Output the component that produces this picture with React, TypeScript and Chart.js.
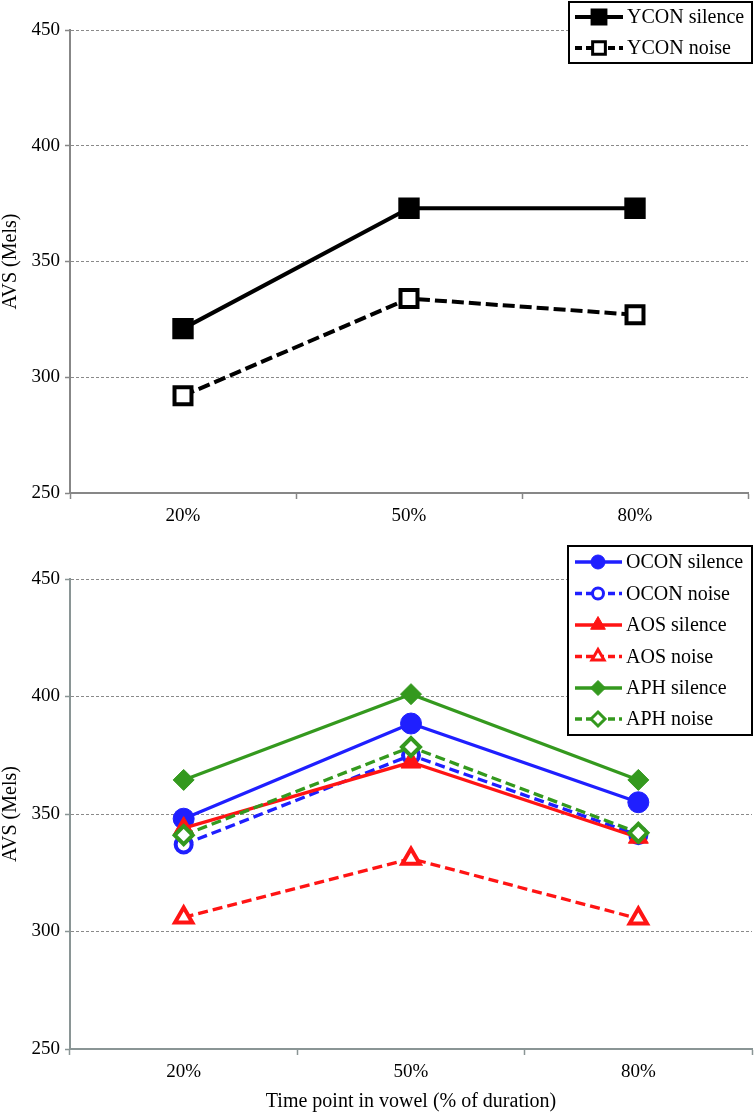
import React, { useEffect, useRef } from 'react';
import { Chart, registerables } from 'chart.js';

Chart.register(...registerables);

const FONT = '"Liberation Serif", "Times New Roman", serif';

// ---- data ----
const categories = ['20%', '50%', '80%'];
const yMin = 250;
const yMax = 450;
const yStep = 50;

const yconSilence = [321, 373, 373];
const yconNoise = [292, 334, 327];

const oconSilence = [348, 388.5, 355];
const oconNoise = [337, 375, 341];
const aosSilence = [344, 372, 340];
const aosNoise = [306, 331, 305.5];
const aphSilence = [364.5, 401, 364.5];
const aphNoise = [341, 378.5, 342];

const yTitle = 'AVS (Mels)';
const xTitle = 'Time point in vowel (% of duration)';

// ---- styles ----
const BLACK = '#000000';
const BLUE = '#1f1fff';
const RED = '#ff1414';
const GREEN = '#34991e';

type Series = {
  label: string;
  data: number[];
  color: string;
  dashed: boolean;
  marker: 'rect' | 'circle' | 'triangle' | 'rectRot';
  filled: boolean;
  radius: number;
  markerBorder: number;
  lineWidth: number;
  legendRadius: number;
  legendBorder: number;
};

const topSeries: Series[] = [
  { label: 'YCON silence', data: yconSilence, color: BLACK, dashed: false, marker: 'rect', filled: true, radius: 13, markerBorder: 3, lineWidth: 4, legendRadius: 10.5, legendBorder: 2 },
  { label: 'YCON noise', data: yconNoise, color: BLACK, dashed: true, marker: 'rect', filled: false, radius: 12, markerBorder: 4, lineWidth: 4, legendRadius: 9, legendBorder: 3 },
];

const bottomSeries: Series[] = [
  { label: 'OCON silence', data: oconSilence, color: BLUE, dashed: false, marker: 'circle', filled: true, radius: 10.5, markerBorder: 1, lineWidth: 3.3, legendRadius: 7, legendBorder: 1 },
  { label: 'OCON noise', data: oconNoise, color: BLUE, dashed: true, marker: 'circle', filled: false, radius: 8, markerBorder: 4, lineWidth: 3.3, legendRadius: 5.5, legendBorder: 3 },
  { label: 'AOS silence', data: aosSilence, color: RED, dashed: false, marker: 'triangle', filled: true, radius: 11.5, markerBorder: 1, lineWidth: 3.3, legendRadius: 8.5, legendBorder: 1 },
  { label: 'AOS noise', data: aosNoise, color: RED, dashed: true, marker: 'triangle', filled: false, radius: 10, markerBorder: 4, lineWidth: 3.3, legendRadius: 7, legendBorder: 3 },
  { label: 'APH silence', data: aphSilence, color: GREEN, dashed: false, marker: 'rectRot', filled: true, radius: 10.5, markerBorder: 1, lineWidth: 3.3, legendRadius: 7.5, legendBorder: 1 },
  { label: 'APH noise', data: aphNoise, color: GREEN, dashed: true, marker: 'rectRot', filled: false, radius: 9, markerBorder: 4, lineWidth: 3.3, legendRadius: 7, legendBorder: 3 },
];

function drawMarker(
  ctx: CanvasRenderingContext2D,
  style: string,
  x: number,
  y: number,
  r: number,
  fill: string,
  stroke: string,
  bw: number
) {
  ctx.save();
  ctx.setLineDash([]);
  ctx.beginPath();
  if (style === 'rect') {
    const s = r * Math.SQRT1_2;
    ctx.rect(x - s, y - s, 2 * s, 2 * s);
  } else if (style === 'circle') {
    ctx.arc(x, y, r, 0, Math.PI * 2);
  } else if (style === 'triangle') {
    ctx.moveTo(x, y - r);
    ctx.lineTo(x + r * 0.866, y + r * 0.5);
    ctx.lineTo(x - r * 0.866, y + r * 0.5);
    ctx.closePath();
  } else {
    ctx.moveTo(x, y - r);
    ctx.lineTo(x + r, y);
    ctx.lineTo(x, y + r);
    ctx.lineTo(x - r, y);
    ctx.closePath();
  }
  ctx.fillStyle = fill;
  ctx.fill();
  ctx.lineWidth = bw;
  ctx.strokeStyle = stroke;
  ctx.stroke();
  ctx.restore();
}

type LegendSpec = {
  box: [number, number, number, number];
  rows: number[];
  lineX1: number;
  lineX2: number;
  markerX: number;
  textX: number;
};

function makeLegendPlugin(series: Series[], spec: LegendSpec) {
  return {
    id: 'customLegend',
    afterDraw(chart: any) {
      const ctx: CanvasRenderingContext2D = chart.ctx;
      const [x, y, w, h] = spec.box;
      ctx.save();
      ctx.fillStyle = '#ffffff';
      ctx.fillRect(x, y, w, h);
      ctx.lineWidth = 2;
      ctx.strokeStyle = '#000000';
      ctx.setLineDash([]);
      ctx.strokeRect(x, y, w, h);
      series.forEach((s, i) => {
        const ry = spec.rows[i];
        ctx.save();
        ctx.beginPath();
        ctx.setLineDash(s.dashed ? [7, 4] : []);
        ctx.lineWidth = s.lineWidth;
        ctx.strokeStyle = s.color;
        ctx.moveTo(spec.lineX1, ry);
        ctx.lineTo(spec.lineX2, ry);
        ctx.stroke();
        ctx.restore();
        drawMarker(ctx, s.marker, spec.markerX, ry, s.legendRadius, s.filled ? s.color : '#ffffff', s.color, s.legendBorder);
        ctx.fillStyle = '#000000';
        ctx.font = `20px ${FONT}`;
        ctx.textAlign = 'left';
        ctx.textBaseline = 'middle';
        ctx.fillText(s.label, spec.textX, ry + 1);
      });
      ctx.restore();
    },
  };
}

type PanelProps = {
  top: number;
  height: number;
  series: Series[];
  padTop: number;
  padRight: number;
  xHeight: number;
  showXTitle: boolean;
  axisColor: string;
  dash: number[];
  legend: LegendSpec;
};

function Panel(props: PanelProps) {
  const ref = useRef<HTMLCanvasElement>(null);
  useEffect(() => {
    const { series, padTop, padRight, xHeight, showXTitle, axisColor, legend, dash } = props;
    const n = series.length;
    const chart = new Chart(ref.current as HTMLCanvasElement, {
      type: 'line',
      data: {
        labels: categories,
        datasets: series.map((s, i) => ({
          label: s.label,
          data: s.data,
          borderColor: s.color,
          backgroundColor: s.color,
          borderWidth: s.lineWidth,
          borderDash: s.dashed ? dash : [],
          tension: 0,
          fill: false,
          pointStyle: s.marker,
          pointRadius: s.radius,
          pointHoverRadius: s.radius,
          pointBorderWidth: s.markerBorder,
          pointHoverBorderWidth: s.markerBorder,
          pointBackgroundColor: s.filled ? s.color : '#ffffff',
          pointBorderColor: s.color,
          order: n - 1 - i,
          clip: false as any,
        })),
      },
      options: {
        responsive: false,
        animation: false,
        events: [],
        layout: { autoPadding: false, padding: { top: padTop, right: padRight, bottom: 0, left: 0 } } as any,
        plugins: {
          legend: { display: false },
          tooltip: { enabled: false },
          title: { display: false },
        },
        scales: {
          x: {
            type: 'category',
            offset: true,
            grid: {
              offset: true,
              drawOnChartArea: false,
              drawTicks: true,
              tickLength: 6,
              tickColor: axisColor,
              tickWidth: 1.5,
              color: axisColor,
            },
            border: { color: axisColor, width: 2 },
            ticks: {
              color: '#000',
              font: { family: FONT, size: 19 },
              padding: 6,
              maxRotation: 0,
              autoSkip: false,
            },
            title: {
              display: showXTitle,
              text: xTitle,
              color: '#000',
              font: { family: FONT, size: 20, lineHeight: 1.1 },
              padding: { top: 0, bottom: 0 },
            },
            afterFit: (scale: any) => {
              scale.height = xHeight;
            },
          } as any,
          y: {
            min: yMin,
            max: yMax,
            ticks: {
              stepSize: yStep,
              color: '#000',
              font: { family: FONT, size: 19 },
              padding: 5,
            },
            grid: {
              color: '#8a8a8a',
              lineWidth: 1,
              drawTicks: true,
              tickLength: 5,
              tickColor: axisColor,
              tickWidth: 1.5,
              tickBorderDash: [],
            },
            border: { color: axisColor, width: 2, dash: [3, 2] },
            title: {
              display: true,
              text: yTitle,
              color: '#000',
              font: { family: FONT, size: 20, lineHeight: 1.1 },
              padding: { top: 0, bottom: 0 },
            },
            afterFit: (scale: any) => {
              scale.width = 70;
            },
          } as any,
        },
      },
      plugins: [makeLegendPlugin(series, legend)],
    });
    return () => chart.destroy();
  }, []);
  return (
    <canvas
      ref={ref}
      width={754}
      height={props.height}
      style={{ position: 'absolute', left: 0, top: props.top, width: 754, height: props.height, display: 'block' }}
    />
  );
}

export default function App() {
  return (
    <div style={{ position: 'absolute', left: 0, top: 0, width: 754, height: 1113, background: '#ffffff', overflow: 'hidden' }}>
      <Panel
        top={0}
        height={540}
        series={topSeries}
        padTop={30}
        padRight={6}
        xHeight={47}
        showXTitle={false}
        axisColor="#878787"
        dash={[12, 5]}
        legend={{ box: [569, 2, 183, 61], rows: [17, 48], lineX1: 575, lineX2: 623, markerX: 599, textX: 627 }}
      />
      <Panel
        top={540}
        height={573}
        series={bottomSeries}
        padTop={39}
        padRight={2}
        xHeight={64}
        showXTitle={true}
        axisColor="#8a9595"
        dash={[10, 5]}
        legend={{ box: [568, 6, 184, 189], rows: [22, 53.5, 85, 116.5, 148, 179], lineX1: 575, lineX2: 622, markerX: 598, textX: 626 }}
      />
    </div>
  );
}
